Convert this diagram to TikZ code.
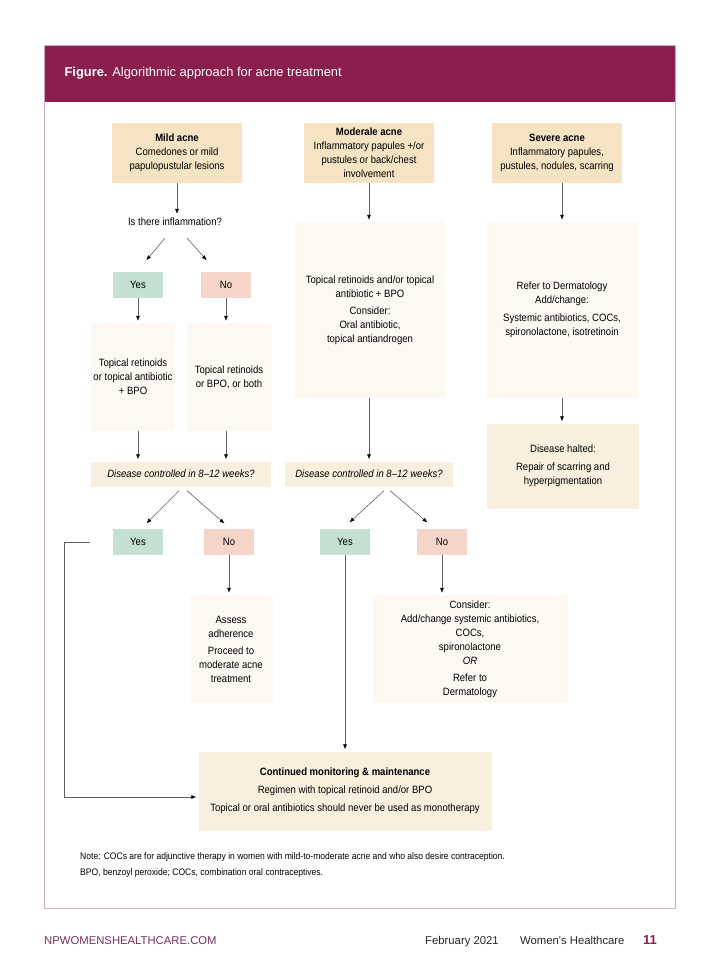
\documentclass[tikz,border=0pt]{standalone}
\usepackage{fontspec}
\setmainfont{Liberation Sans}[FakeStretch=0.9]
\newfontfamily\titrefont{Liberation Sans}
\usepackage{tikz}
\usetikzlibrary{arrows.meta}
\usetikzlibrary{calc}
\definecolor{bordeaux}{RGB}{138,30,78}
\definecolor{cadre}{RGB}{214,170,194}
\definecolor{sable}{RGB}{245,227,196}
\definecolor{creme}{RGB}{253,248,242}
\definecolor{beige}{RGB}{249,239,222}
\definecolor{vert}{RGB}{196,224,211}
\definecolor{rose}{RGB}{247,212,202}
\definecolor{trait}{RGB}{95,95,95}
\definecolor{lien}{RGB}{118,46,96}
\tikzstyle{texte}=[font=\fontsize{10.6}{14}\selectfont,text=black]
\tikzstyle{acne}=[texte,rectangle,fill=sable,minimum width=130pt,minimum height=60pt,inner sep=2pt,align=center]
\tikzstyle{traitement}=[texte,rectangle,fill=creme,inner sep=2pt,align=center]
\tikzstyle{controle}=[texte,rectangle,fill=beige,minimum height=25pt,inner sep=2pt,align=center]
\tikzstyle{oui}=[texte,rectangle,fill=vert,minimum width=50pt,minimum height=26pt,inner sep=0pt]
\tikzstyle{non}=[texte,rectangle,fill=rose,minimum width=50pt,minimum height=26pt,inner sep=0pt]
\tikzstyle{question}=[texte,inner sep=2pt]
\tikzstyle{petit}=[font=\fontsize{9.5}{12}\selectfont,anchor=base west,inner sep=0pt]
\tikzstyle{pied}=[font=\titrefont\fontsize{11.3}{12}\selectfont,anchor=base west,inner sep=0pt]
\tikzstyle{suite}=[-{Latex[length=5pt,width=4pt,color=black]},draw=trait,line width=0.6pt,shorten >=2pt]

\begin{document}
\begin{tikzpicture}[x=1pt,y=-1pt]
\useasboundingbox (0,0) rectangle (720,972);
%cadre
\fill[bordeaux] (44,45) rectangle (675,102);
\draw[cadre] (44,45) rectangle (675,908);
\node[anchor=west,text=white,font=\titrefont\fontsize{12.9}{14}\selectfont] (titre) at (61,73) {\textbf{Figure.} Algorithmic approach for acne treatment};

\node[acne] (mild) at (177,153) {\textbf{Mild acne}\\Comedones or mild\\papulopustular lesions};
\node[acne] (moderate) at (369,153) {\textbf{Moderale acne}\\Inflammatory papules +/or\\pustules or back/chest\\involvement};
\node[acne] (severe) at (557,153) {\textbf{Severe acne}\\Inflammatory papules,\\pustules, nodules, scarring};

\node[question] (inflam) at (175,222) {Is there inflammation?};
\node[oui] (oui1) at (138,285) {Yes};
\node[non] (non1) at (226,285) {No};
\node[traitement,minimum width=84pt,minimum height=108pt] (trt1) at (133,377) {Topical retinoids\\or topical antibiotic\\+ BPO};
\node[traitement,minimum width=85pt,minimum height=108pt] (trt2) at (229,377) {Topical retinoids\\or BPO, or both};
\node[traitement,minimum width=150pt,minimum height=176pt] (trtmod) at (370,310) {Topical retinoids and/or topical\\antibiotic + BPO\\[3pt]Consider:\\Oral antibiotic,\\topical antiandrogen};
\node[traitement,minimum width=151pt,minimum height=176pt] (trtsev) at (562,310) {Refer to Dermatology\\Add/change:\\[4pt]Systemic antibiotics, COCs,\\spironolactone, isotretinoin};

\node[controle,minimum width=180pt] (ctrl1) at (181,474) {\itshape Disease controlled in 8--12 weeks?};
\node[controle,minimum width=168pt] (ctrl2) at (369,474) {\itshape Disease controlled in 8--12 weeks?};
\node[controle,minimum width=152pt,minimum height=85pt] (halte) at (563,466) {Disease halted:\\[4pt]Repair of scarring and\\hyperpigmentation};

\node[oui] (oui2) at (138,542) {Yes};
\node[non] (non2) at (229,542) {No};
\node[oui] (oui3) at (345,542) {Yes};
\node[non] (non3) at (442,542) {No};

\node[traitement,minimum width=83pt,minimum height=108pt] (assess) at (231,649) {Assess\\adherence\\[3pt]Proceed to\\moderate acne\\treatment};
\node[traitement,minimum width=195pt,minimum height=108pt] (consider) at (470,649) {Consider:\\Add/change systemic antibiotics,\\COCs,\\spironolactone\\\textit{OR}\\[3pt]Refer to\\Dermatology};
\node[controle,minimum width=293pt,minimum height=79pt] (suivi) at (345,791) {\textbf{Continued monitoring \& maintenance}\\[4pt]Regimen with topical retinoid and/or BPO\\[4pt]Topical or oral antibiotics should never be used as monotherapy};
\coordinate (retour) at (64,797);

%fleches
\draw[suite] (mild.south) -- (mild.south |- inflam.north);
\draw[suite] ($(inflam.south)+(-10,10)$) -- ($(oui1.north)+(7,-10)$);
\draw[suite] ($(inflam.south)+(12,10)$) -- ($(non1.north)+(-18,-10)$);
\draw[suite] (oui1) -- (oui1 |- trt1.north);
\draw[suite] (non1) -- (non1 |- trt2.north);
\draw[suite] (oui1 |- trt1.south) -- (oui1 |- ctrl1.north);
\draw[suite] (non1 |- trt2.south) -- (non1 |- ctrl1.north);

\draw[suite] (moderate.south) -- (moderate.south |- trtmod.north);
\draw[suite] (moderate.south |- trtmod.south) -- (moderate.south |- ctrl2.north);
\draw[suite] (trtsev.north |- severe.south) -- (trtsev.north);
\draw[suite] (trtsev.south) -- (trtsev.south |- halte.north);

\draw[suite] ($(ctrl1.south)+(-2,4)$) -- ($(oui2.north)+(7,-4)$);
\draw[suite] ($(ctrl1.south)+(6,4)$) -- ($(non2.north)+(-3,-4)$);
\draw[suite] ($(ctrl2.south)+(15,4)$) -- ($(oui3.north)+(3,-5)$);
\draw[suite] ($(ctrl2.south)+(21,4)$) -- ($(non3.north)+(-13,-5)$);

\draw[suite] (non2) -- (non2 |- assess.north);
\draw[suite] (non3) -- (non3 |- consider.north);
\draw[suite] (oui3) -- (oui3 |- suivi.north);
\draw[suite,shorten <=23pt] (oui2.west) -- (oui2.west -| retour) -- (retour) -- ($(suivi.west)+(0,6)$);

%notes
\node[petit] (note1) at (80,859) {Note: COCs are for adjunctive therapy in women with mild-to-moderate acne and who also desire contraception.};
\node[petit] (note2) at (80,875) {BPO, benzoyl peroxide; COCs, combination oral contraceptives.};
\node[pied,text=lien] (site) at (44,944) {NPWOMENSHEALTHCARE.COM};
\node[pied,text=black!85] (date) at (425,944) {February 2021};
\node[pied,text=black!85] (revue) at (520,944) {Women's Healthcare};
\node[pied,text=bordeaux,font=\titrefont\bfseries\fontsize{13}{12}\selectfont] (page) at (643,944) {11};
\end{tikzpicture}
\end{document}
